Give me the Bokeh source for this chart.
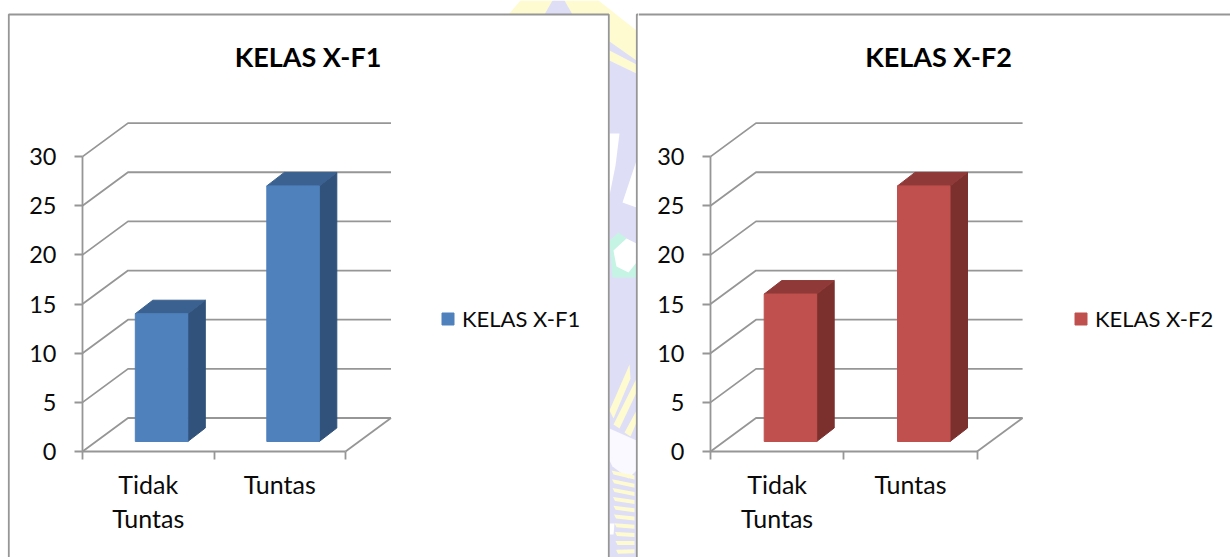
from bokeh.embed import file_html
from bokeh.resources import INLINE
from bokeh.layouts import row
from bokeh.models import (FixedTicker, Label, Legend, LegendItem, LinearAxis, Range1d)
from bokeh.plotting import figure

# ---- data ----
categories = ["Tidak\nTuntas", "Tuntas"]
values_f1 = [13, 26]
values_f2 = [15, 26]
value_ticks = [0, 5, 10, 15, 20, 25, 30]
title_f1 = "KELAS X-F1"
title_f2 = "KELAS X-F2"

FONT = "Lato"
GRAY = "#969696"
TEXT = "#0a0a0a"
PAGE_TOP, PAGE_BOTTOM = 0, 557


def panel(left, right, x0, cat_w, values, title, title_cx, colors, legend_x):
    unit = 9.83
    y0 = 451
    fx = lambda px: (px - x0) / cat_w
    fy = lambda py: (y0 - py) / unit
    p = figure(width=right - left, height=PAGE_BOTTOM - PAGE_TOP,
               x_range=Range1d(fx(left), fx(right)),
               y_range=Range1d(fy(PAGE_BOTTOM), fy(PAGE_TOP)),
               output_backend="svg", toolbar_location=None,
               min_border=0, min_border_left=0, min_border_right=0,
               min_border_top=0, min_border_bottom=0,
               x_axis_type=None, y_axis_type=None,
               background_fill_color="white", border_fill_color="white",
               outline_line_color=None)
    p.grid.visible = False

    # walls and floor of the 3-D box
    n = len(values)
    wall_dx = 45.5 / cat_w
    wall_dy = 33.5 / unit
    for v in value_ticks:
        p.line([0, wall_dx, n + wall_dx], [v, v + wall_dy, v + wall_dy],
               line_color=GRAY, line_width=1.8)
    p.line([n + wall_dx, n], [wall_dy, 0], line_color=GRAY, line_width=1.8)

    # bars
    bar_w = 52.5 / cat_w
    side_dx = 17.5 / cat_w
    side_dy = 13.5 / unit
    base = 10 / unit
    shift = 13.3 / cat_w
    front, side, top = colors
    xl = [i + 0.5 + shift - bar_w / 2 for i in range(n)]
    xr = [a + bar_w for a in xl]
    bottoms = [base] * n
    tops = [base + v for v in values]
    p.patches([[r, r + side_dx, r + side_dx, r] for r in xr],
              [[base, base + side_dy, t + side_dy, t] for t in tops],
              fill_color=side, line_color=side)
    p.patches([[a, a + side_dx, r + side_dx, r] for a, r in zip(xl, xr)],
              [[t, t + side_dy, t + side_dy, t] for t in tops],
              fill_color=top, line_color=top)
    bars = p.quad(left=xl, right=xr, bottom=bottoms, top=tops,
                  fill_color=front, line_color=front, line_width=1)

    # axes
    yax = LinearAxis(fixed_location=0, ticker=FixedTicker(ticks=value_ticks),
                     bounds=(0, 30),
                     axis_line_color=GRAY, axis_line_width=1.8,
                     major_tick_line_color=GRAY, major_tick_line_width=1.8,
                     major_tick_out=8, major_tick_in=0,
                     minor_tick_line_color=None,
                     major_label_standoff=18,
                     major_label_text_font=FONT,
                     major_label_text_font_size="23.5px",
                     major_label_text_color=TEXT)
    p.add_layout(yax, "left")
    xax = LinearAxis(fixed_location=0,
                     ticker=FixedTicker(ticks=[i + 0.5 for i in range(n)],
                                        minor_ticks=list(range(n + 1))),
                     bounds=(0, n),
                     axis_line_color=GRAY, axis_line_width=1.8,
                     major_tick_line_color=None, major_tick_out=8, major_tick_in=0,
                     minor_tick_line_color=GRAY, minor_tick_line_width=1.8,
                     minor_tick_out=8, minor_tick_in=0,
                     major_label_overrides={i + 0.5: c for i, c in enumerate(categories)},
                     major_label_standoff=9,
                     major_label_text_font=FONT,
                     major_label_text_font_size="25px",
                     major_label_text_color=TEXT,
                     major_label_text_line_height=1.15)
    p.add_layout(xax, "below")

    # title
    p.add_layout(Label(x=fx(title_cx), y=fy(56), text=title,
                       text_font=FONT, text_font_style="bold",
                       text_font_size="27px", text_color="#000000",
                       text_align="center", text_baseline="middle"))

    # legend
    leg = Legend(items=[LegendItem(label=title, renderers=[bars])],
                 location=(legend_x - left, PAGE_BOTTOM - 332),
                 border_line_color=None, background_fill_alpha=0,
                 padding=0, margin=0, glyph_width=15, glyph_height=15,
                 label_standoff=7, label_text_font=FONT,
                 label_text_font_size="22px", label_text_color=TEXT)
    p.add_layout(leg)
    return p, fx, fy


blue = ("#4F81BD", "#31527A", "#3A618F")
red = ("#C0504D", "#7C302E", "#8F3A38")

f1, fx, fy = panel(0, 638, 82, 131.5, values_f1, title_f1, 307.5, blue, 440)
f2, fx2, fy2 = panel(638, 1230, 710, 133.3, values_f2, title_f2, 938, red, 1073)


# background watermark visible between the two panels (decoration only)
def deco(color, pts):
    f1.patch([fx(a) for a, _ in pts], [fy(b) for _, b in pts],
             fill_color=color, line_color=None, level="underlay")


LAV = "#DEDEF7"
YEL = "#FFFBD0"
deco(YEL, [(520, 0), (598, 0), (636, 30), (636, 73), (609, 60), (609, 14), (508, 14)])
deco(LAV, [(552, 0), (564, 0), (572, 14), (544, 14)])
deco(LAV, [(609, 41), (636, 60), (636, 64), (609, 50)])
deco(LAV, [(609, 60), (636, 73), (636, 557), (609, 557)])
deco("#FFFFFF", [(609, 133), (619, 133), (615, 165), (609, 195)])
deco("#FFFFFF", [(636, 160), (622, 202), (636, 207)])
deco("#C6F4E4", [(609, 240), (618, 232), (636, 245), (636, 277), (612, 277)])
deco("#FFFFFF", [(613, 250), (626, 238), (636, 243), (636, 262), (628, 272), (616, 266)])
# diagonal rays
deco(YEL, [(609, 410), (629, 364), (630, 378), (613, 418)])
deco(YEL, [(613, 424), (636, 378), (636, 392), (619, 428)])
deco(YEL, [(624, 432), (636, 410), (636, 422), (630, 436)])
deco("#FAF9FF", [(609, 428), (636, 440), (636, 470), (628, 478), (612, 466), (609, 460)])
# lower rays
for k in range(10):
    yy = 470 + k * 8.8
    deco(YEL, [(611 + k * 0.5, yy), (634, yy + 5 - k * 0.6), (634, yy + 9 - k * 0.6),
               (613 + k * 0.5, yy + 4)])
deco("#FFFFFF", [(609, 523), (614, 523), (613, 534), (609, 534)])

# panel frames
panel_l, panel_r, panel_top = 8.3, 608.3, 14
f1.line([fx(panel_l), fx(panel_l), fx(panel_r), fx(panel_r)],
        [fy(557), fy(panel_top), fy(panel_top), fy(557)], line_color=GRAY, line_width=1.8)
f1.line([fx(636.3), fx(636.3), fx(638)], [fy(557), fy(panel_top), fy(panel_top)],
        line_color=GRAY, line_width=1.8)
f2.line([fx2(638), fx2(1230)], [fy2(panel_top), fy2(panel_top)],
        line_color=GRAY, line_width=1.8)

layout = row(f1, f2, spacing=0)
open("out.html", "w").write(file_html(layout, INLINE))
